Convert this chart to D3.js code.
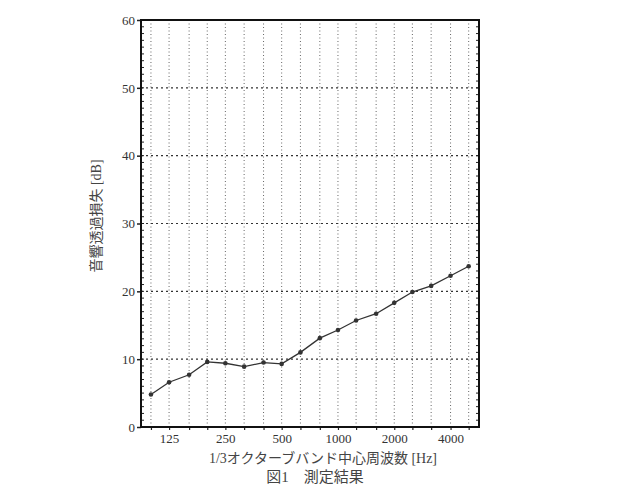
<!DOCTYPE html>
<html>
<head>
<meta charset="utf-8">
<script src="https://cdn.jsdelivr.net/npm/d3@7"></script>
<style>
  body { margin: 0; background: #fff; }
</style>
</head>
<body>
<div id="chart"></div>
<script>
// 1/3 octave band centre frequencies and measured transmission loss
const bands = [100, 125, 160, 200, 250, 315, 400, 500, 630, 800, 1000, 1250, 1600, 2000, 2500, 3150, 4000, 5000]
const lossDb = [4.8, 6.6, 7.7, 9.6, 9.4, 8.9, 9.5, 9.3, 11.0, 13.1, 14.3, 15.7, 16.7, 18.3, 19.9, 20.8, 22.3, 23.7]
const xTickLabels = [125, 250, 500, 1000, 2000, 4000]
const yTicks = [0, 10, 20, 30, 40, 50, 60]

const W = 629, H = 485
const margin = { top: 20, left: 141, right: 150, bottom: 58 }
const width = W - margin.left - margin.right
const height = H - margin.top - margin.bottom
const labelFont = '"Liberation Serif", "Noto Sans CJK JP", serif'

const svg = d3.select('#chart').append('svg')
  .attr('width', W).attr('height', H)

const g = svg.append('g')
  .attr('transform', `translate(${margin.left},${margin.top})`)

// log2 scale, 3 bands per octave
const xScale = d3.scaleLog()
  .base(2)
  .domain([100 / Math.pow(2, 0.53 / 3), 5000 * Math.pow(2, 0.55 / 3)])
  .range([0, width])

const yScale = d3.scaleLinear().domain([0, 60]).range([height, 0])

// vertical grid (each band)
g.append('g').selectAll('line')
  .data(bands)
  .enter().append('line')
  .attr('x1', d => xScale(d)).attr('x2', d => xScale(d))
  .attr('y1', 0).attr('y2', height)
  .attr('stroke', '#555')
  .attr('stroke-width', 0.9)
  .attr('stroke-dasharray', '1,2.5')

// horizontal grid
g.append('g').selectAll('line')
  .data(yTicks.slice(1, -1))
  .enter().append('line')
  .attr('x1', 0).attr('x2', width)
  .attr('y1', d => yScale(d)).attr('y2', d => yScale(d))
  .attr('stroke', '#333')
  .attr('stroke-width', 1.1)
  .attr('stroke-dasharray', '2,3')

// minor ticks every 1 dB, left and right inward
const minor = d3.range(1, 60)
g.append('g').selectAll('line')
  .data(minor)
  .enter().append('line')
  .attr('x1', 0).attr('x2', 3)
  .attr('y1', d => yScale(d)).attr('y2', d => yScale(d))
  .attr('stroke', '#222')
g.append('g').selectAll('line')
  .data(minor)
  .enter().append('line')
  .attr('x1', width).attr('x2', width - 3)
  .attr('y1', d => yScale(d)).attr('y2', d => yScale(d))
  .attr('stroke', '#222')

// left axis (major ticks outward)
const yAxis = d3.axisLeft(yScale).tickValues(yTicks).tickSize(4).tickPadding(2)
g.append('g').call(yAxis)
  .call(a => a.select('.domain').remove())
  .call(a => a.selectAll('line').attr('stroke', '#222').attr('stroke-width', 1.5))
  .call(a => a.selectAll('text')
    .attr('font-family', '"Liberation Serif", serif')
    .attr('font-size', 13)
    .attr('fill', '#333'))

// bottom axis ticks at each band, labels on octave bands
const xAxis = d3.axisBottom(xScale)
  .tickValues(bands)
  .tickSize(3)
  .tickPadding(4)
  .tickFormat(d => (xTickLabels.includes(d) ? d : ''))
g.append('g')
  .attr('transform', `translate(0,${height})`)
  .call(xAxis)
  .call(a => a.select('.domain').remove())
  .call(a => a.selectAll('line').attr('stroke', '#222').attr('stroke-width', 1.2))
  .call(a => a.selectAll('text')
    .attr('font-family', '"Liberation Serif", serif')
    .attr('font-size', 13)
    .attr('fill', '#333'))

// frame
g.append('rect')
  .attr('width', width).attr('height', height)
  .attr('fill', 'none')
  .attr('stroke', '#111')
  .attr('stroke-width', 2)

// data line
const line = d3.line()
  .x((d, i) => xScale(bands[i]))
  .y(d => yScale(d))

g.append('path')
  .datum(lossDb)
  .attr('d', line)
  .attr('fill', 'none')
  .attr('stroke', '#333')
  .attr('stroke-width', 1.3)

g.selectAll('.pt')
  .data(lossDb)
  .enter().append('circle')
  .attr('class', 'pt')
  .attr('cx', (d, i) => xScale(bands[i]))
  .attr('cy', d => yScale(d))
  .attr('r', 2.3)
  .attr('fill', '#333')

// labels
svg.append('text')
  .attr('x', 98).attr('y', 216)
  .attr('transform', 'rotate(-90,98,216)')
  .attr('text-anchor', 'middle')
  .attr('dominant-baseline', 'middle')
  .attr('font-family', labelFont)
  .attr('font-size', 14)
  .attr('fill', '#444')
  .text('音響透過損失 [dB]')

svg.append('text')
  .attr('x', 323).attr('y', 463)
  .attr('text-anchor', 'middle')
  .attr('font-family', labelFont)
  .attr('font-size', 14)
  .attr('fill', '#444')
  .text('1/3オクターブバンド中心周波数 [Hz]')

svg.append('text')
  .attr('x', 315).attr('y', 482)
  .attr('text-anchor', 'middle')
  .attr('font-family', labelFont)
  .attr('font-size', 15)
  .attr('fill', '#444')
  .text('図1　測定結果')
</script>
</body>
</html>
